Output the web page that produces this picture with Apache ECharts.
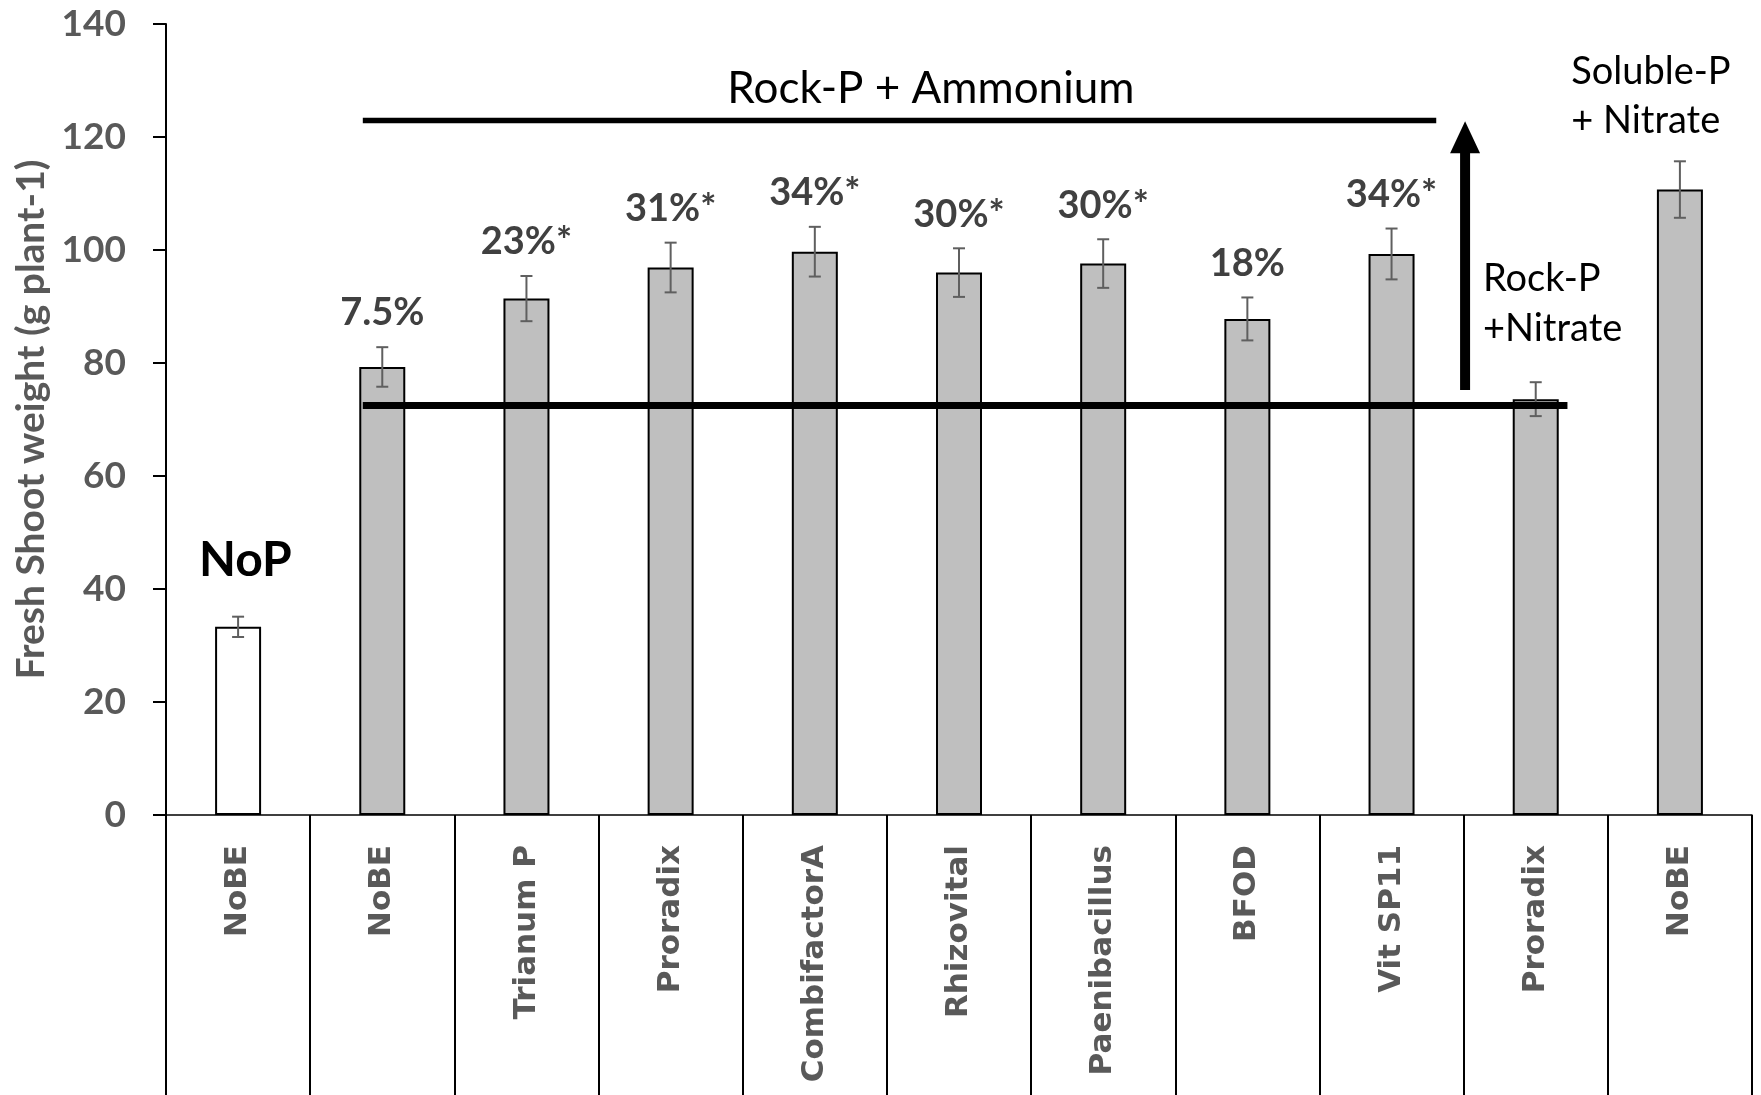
<!DOCTYPE html>
<html>
<head>
<meta charset="utf-8">
<title>Fresh shoot weight</title>
<script src="https://cdn.jsdelivr.net/npm/echarts@6/dist/echarts.min.js"></script>
<style>
  html, body { margin: 0; padding: 0; background: #fff; }
  #chart { width: 1761px; height: 1095px; }
</style>
</head>
<body>
<div id="chart"></div>
<script>
// Treatments (bottom axis, left to right)
const categories = ['NoBE', 'NoBE', 'Trianum P', 'Proradix', 'CombifactorA', 'Rhizovital',
  'Paenibacillus', 'BFOD', 'Vit SP11', 'Proradix', 'NoBE'];
// Mean fresh shoot weight, g plant-1
const shootWeight = [33.3, 79.3, 91.4, 96.9, 99.7, 96.0, 97.6, 87.8, 99.3, 73.6, 110.7];
// Standard error of the mean
const shootError = [1.8, 3.5, 4.0, 4.4, 4.4, 4.3, 4.3, 3.8, 4.5, 3.0, 5.0];
// Increase over the Rock-P + Nitrate control
const gainLabels = ['', '7.5%', '23%*', '31%*', '34%*', '30%*', '30%*', '18%', '34%*', '', ''];
// Value-axis range
const yRange = [0, 140, 20];

// Group annotations, in [category units, g plant-1]
const ammoniumSpan = [1.365, 8.81, 122.9];
const controlSpan = [1.365, 9.72, 72.5];
const arrowSpan = [9.01, 75.2, 122.8];
const noteTexts = [
  { text: 'Rock-P + Ammonium', at: [5.305, 128.6], align: 'center', size: 44, weight: 'normal' },
  { text: 'Rock-P', at: [9.134, 94.9], align: 'left', size: 38, weight: 'normal' },
  { text: '+Nitrate', at: [9.134, 86.0], align: 'left', size: 38, weight: 'normal' },
  { text: 'Soluble-P', at: [9.746, 131.6], align: 'left', size: 38, weight: 'normal' },
  { text: '+ Nitrate', at: [9.746, 122.8], align: 'left', size: 38, weight: 'normal' },
  { text: 'NoP', at: [0.551, 45.1], align: 'center', size: 48, weight: 'bold' }
];

const FONT = 'Lato, "Open Sans", sans-serif';
const chart = echarts.init(document.getElementById('chart'), null, { renderer: 'canvas' });

const barData = shootWeight.map((v, i) => ({
  value: v,
  itemStyle: { color: i === 0 ? '#ffffff' : '#bfbfbf' }
}));
const errData = shootWeight.map((v, i) => [i, v, shootError[i]]);

chart.setOption({
  animation: false,
  backgroundColor: '#ffffff',
  grid: { left: 166, right: 9, top: 24, bottom: 280, containLabel: false },
  xAxis: [
    {
      type: 'category',
      data: categories,
      boundaryGap: true,
      axisLine: { lineStyle: { color: '#000', width: 1.5 } },
      axisTick: { show: true, interval: 0, length: 280, lineStyle: { color: '#000', width: 2 } },
      axisLabel: {
        interval: 0, rotate: 90, margin: 30,
        color: '#595959', fontFamily: '"DejaVu Sans", sans-serif', fontWeight: 'bold', fontSize: 31
      },
      splitLine: { show: false }
    },
    { type: 'value', min: 0, max: categories.length, show: false }
  ],
  yAxis: {
    type: 'value',
    min: yRange[0], max: yRange[1], interval: yRange[2],
    name: 'Fresh Shoot weight (g plant-1)',
    nameLocation: 'middle', nameRotate: 90, nameGap: 114,
    nameTextStyle: { color: '#595959', fontFamily: FONT, fontWeight: 'bold', fontSize: 39 },
    axisLine: { show: true, lineStyle: { color: '#000', width: 2 } },
    axisTick: { show: true, length: 13, lineStyle: { color: '#000', width: 2 } },
    axisLabel: { margin: 40, color: '#595959', fontFamily: FONT, fontWeight: 'bold', fontSize: 37 },
    splitLine: { show: false }
  },
  series: [
    {
      type: 'bar',
      data: barData,
      barWidth: 46,
      itemStyle: { borderColor: '#000', borderWidth: 2 },
      z: 2
    },
    {
      // error bars with the percentage gain written above
      type: 'custom',
      xAxisIndex: 0,
      yAxisIndex: 0,
      data: errData,
      encode: { x: 0, y: 1 },
      z: 3,
      renderItem: function (params, api) {
        const i = api.value(0), v = api.value(1), e = api.value(2);
        const top = api.coord([i, v + e]);
        const bot = api.coord([i, v - e]);
        const cap = 6;
        const st = { stroke: '#5f5f5f', lineWidth: 2 };
        const children = [
          { type: 'line', shape: { x1: top[0], y1: top[1], x2: bot[0], y2: bot[1] }, style: st },
          { type: 'line', shape: { x1: top[0] - cap, y1: top[1], x2: top[0] + cap, y2: top[1] }, style: st },
          { type: 'line', shape: { x1: bot[0] - cap, y1: bot[1], x2: bot[0] + cap, y2: bot[1] }, style: st }
        ];
        const lbl = gainLabels[params.dataIndex];
        if (lbl) {
          children.push({
            type: 'text', x: top[0], y: top[1] - 34,
            style: {
              text: lbl, fill: '#404040', fontFamily: FONT, fontWeight: 'bold', fontSize: 38,
              align: 'center', verticalAlign: 'middle'
            }
          });
        }
        return { type: 'group', children: children };
      }
    },
    {
      // group brackets, control level, arrow and notes
      type: 'custom',
      xAxisIndex: 1,
      yAxisIndex: 0,
      data: [[0, 0]],
      z: 4,
      silent: true,
      renderItem: function (params, api) {
        const c = (u, v) => api.coord([u, v]);
        const a0 = c(ammoniumSpan[0], ammoniumSpan[2]), a1 = c(ammoniumSpan[1], ammoniumSpan[2]);
        const b0 = c(controlSpan[0], controlSpan[2]), b1 = c(controlSpan[1], controlSpan[2]);
        const tail = c(arrowSpan[0], arrowSpan[1]), tip = c(arrowSpan[0], arrowSpan[2]);
        const headLen = 32, headHalf = 15;
        const children = [
          { type: 'line', shape: { x1: a0[0], y1: a0[1], x2: a1[0], y2: a1[1] }, style: { stroke: '#000', lineWidth: 5.5 } },
          { type: 'line', shape: { x1: b0[0], y1: b0[1], x2: b1[0], y2: b1[1] }, style: { stroke: '#000', lineWidth: 7 } },
          { type: 'line', shape: { x1: tail[0], y1: tail[1], x2: tip[0], y2: tip[1] + headLen - 2 }, style: { stroke: '#000', lineWidth: 10 } },
          {
            type: 'polygon',
            shape: { points: [[tip[0], tip[1]], [tip[0] - headHalf, tip[1] + headLen], [tip[0] + headHalf, tip[1] + headLen]] },
            style: { fill: '#000' }
          }
        ];
        noteTexts.forEach(function (n) {
          const p = c(n.at[0], n.at[1]);
          children.push({
            type: 'text', x: p[0], y: p[1],
            style: {
              text: n.text, fill: '#000', fontFamily: FONT, fontWeight: n.weight, fontSize: n.size,
              align: n.align, verticalAlign: 'middle'
            }
          });
        });
        return { type: 'group', children: children };
      }
    }
  ]
});
</script>
</body>
</html>
